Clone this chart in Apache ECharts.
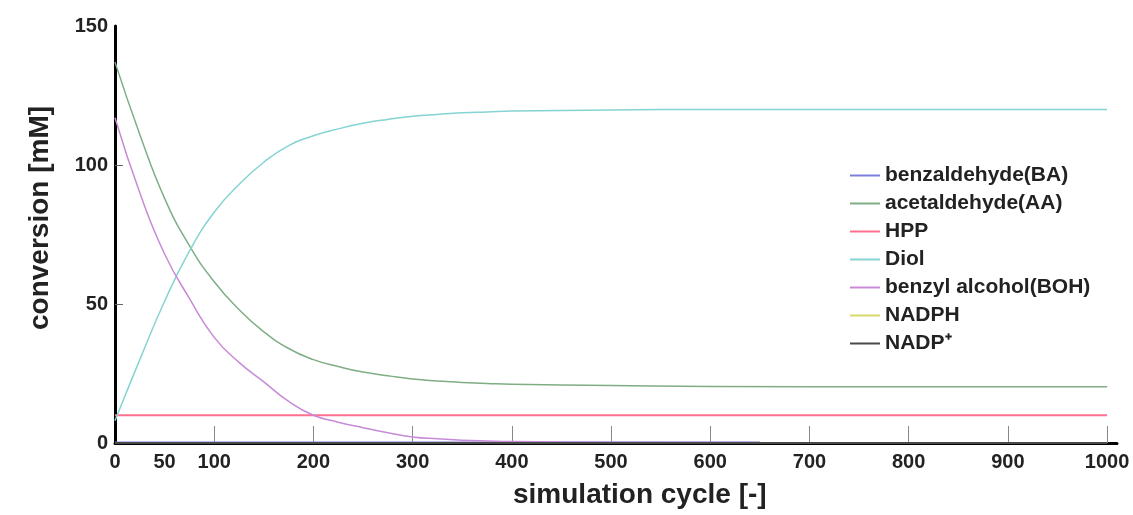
<!DOCTYPE html>
<html>
<head>
<meta charset="utf-8">
<script src="https://cdn.jsdelivr.net/npm/echarts@6/dist/echarts.min.js"></script>
<style>
  html, body { margin: 0; padding: 0; background: #fff; }
  #chart { width: 1133px; height: 515px; }
</style>
</head>
<body>
<div id="chart"></div>
<script>
// ======================
// DATA
// ======================
const seriesNames = [
    "benzaldehyde(BA)", "acetaldehyde(AA)", "HPP", "Diol",
    "benzyl alcohol(BOH)", "NADPH", "NADP\u207a"
];

const baCycles   = [0, 650];
const baValues   = [0.3, 0.3];

const aaCycles   = [0, 25, 50, 75, 100, 125, 150, 175, 200, 225, 250, 275, 300, 325, 350, 375, 400, 500, 600, 800, 1000];
const aaValues   = [137, 111, 88, 71, 58, 48, 40, 34, 30, 27.5, 25.5, 24.2, 23, 22.3, 21.8, 21.4, 21.1, 20.7, 20.3, 20.2, 20.2];

const hppCycles  = [0, 1000];
const hppValues  = [10, 10];

const diolCycles = [0, 25, 50, 75, 100, 125, 150, 175, 200, 225, 250, 275, 300, 325, 350, 375, 400, 500, 600, 1000];
const diolValues = [8, 30, 51, 69, 83, 93, 101, 107, 110.5, 113, 115, 116.4, 117.5, 118.2, 118.8, 119.1, 119.4, 119.8, 120, 120];

const bohCycles  = [0, 25, 50, 75, 100, 125, 150, 175, 200, 225, 250, 275, 300, 325, 350, 375, 400, 500, 650];
const bohValues  = [117, 90, 68, 52, 38, 29, 22, 15, 10, 7.5, 5.5, 3.7, 2.2, 1.5, 1.0, 0.7, 0.5, 0.3, 0.2];

const nadphCycles = [0, 1000];
const nadphValues = [0, 0];

const nadpCycles = [0, 1000];
const nadpValues = [0, 0];

const xLabelValues = [0, 50, 100, 200, 300, 400, 500, 600, 700, 800, 900, 1000];
const xTickValues  = [100, 200, 300, 400, 500, 600, 700, 800, 900, 1000];
const yLabelValues = [0, 50, 100, 150];
const yTickValues  = [50, 100];

// ======================
// COLOURS
// ======================
const COLORS = {
    ba: "#7b7fe0",
    aa: "#7fae84",
    hpp: "#ff6f8e",
    diol: "#86d3d3",
    boh: "#c88ad6",
    nadph: "#d8d86a",
    nadp: "#4a4a4a"
};

const FONT = "'Liberation Sans', Arial, sans-serif";

function pairs(xs, ys) {
    return xs.map((x, i) => [x, ys[i]]);
}

function lineSeries(name, xs, ys, color, width) {
    return {
        name: name,
        type: "line",
        data: pairs(xs, ys),
        showSymbol: false,
        symbol: "none",
        smooth: true,
        itemStyle: { color: color },
        lineStyle: { color: color, width: width || 1.5 },
        emphasis: { disabled: true }
    };
}

const chart = echarts.init(document.getElementById("chart"));
chart.setOption({
    backgroundColor: "#ffffff",
    animation: false,
    grid: { left: 115, right: 16, top: 26, bottom: 72 },
    legend: {
        orient: "vertical",
        left: 845,
        top: 160,
        icon: "rect",
        itemWidth: 30,
        itemHeight: 2,
        itemGap: 7,
        data: seriesNames,
        textStyle: {
            color: "#222",
            fontFamily: FONT,
            fontWeight: "bold",
            fontSize: 21,
            lineHeight: 20
        }
    },
    xAxis: {
        type: "value",
        min: 0,
        max: 1010,
        splitLine: { show: false },
        axisLine: { lineStyle: { color: "#000", width: 3 } },
        axisTick: {
            inside: true,
            length: 17,
            customValues: xTickValues,
            lineStyle: { color: "#888", width: 1 }
        },
        axisLabel: {
            customValues: xLabelValues,
            formatter: v => String(v),
            margin: 9,
            color: "#222",
            fontFamily: FONT,
            fontWeight: "bold",
            fontSize: 20
        }
    },
    yAxis: {
        type: "value",
        min: 0,
        max: 150,
        splitLine: { show: false },
        axisLine: { show: true, lineStyle: { color: "#000", width: 3 } },
        axisTick: {
            show: true,
            inside: true,
            length: 8,
            customValues: yTickValues,
            lineStyle: { color: "#666", width: 1 }
        },
        axisLabel: {
            customValues: yLabelValues,
            margin: 7,
            color: "#222",
            fontFamily: FONT,
            fontWeight: "bold",
            fontSize: 20
        }
    },
    graphic: [
        {
            type: "text",
            left: 643 - 130,
            top: 481,
            style: {
                text: "simulation cycle [-]",
                fill: "#222",
                font: "bold 28px " + FONT
            }
        },
        {
            type: "text",
            x: 26,
            y: 330,
            rotation: Math.PI / 2,
            style: {
                text: "conversion [mM]",
                fill: "#222",
                font: "bold 28px " + FONT
            }
        }
    ],
    series: [
        lineSeries(seriesNames[0], baCycles, baValues, COLORS.ba),
        lineSeries(seriesNames[1], aaCycles, aaValues, COLORS.aa),
        lineSeries(seriesNames[2], hppCycles, hppValues, COLORS.hpp, 2),
        lineSeries(seriesNames[3], diolCycles, diolValues, COLORS.diol),
        lineSeries(seriesNames[4], bohCycles, bohValues, COLORS.boh),
        lineSeries(seriesNames[5], nadphCycles, nadphValues, COLORS.nadph),
        lineSeries(seriesNames[6], nadpCycles, nadpValues, COLORS.nadp, 2)
    ]
});
</script>
</body>
</html>
